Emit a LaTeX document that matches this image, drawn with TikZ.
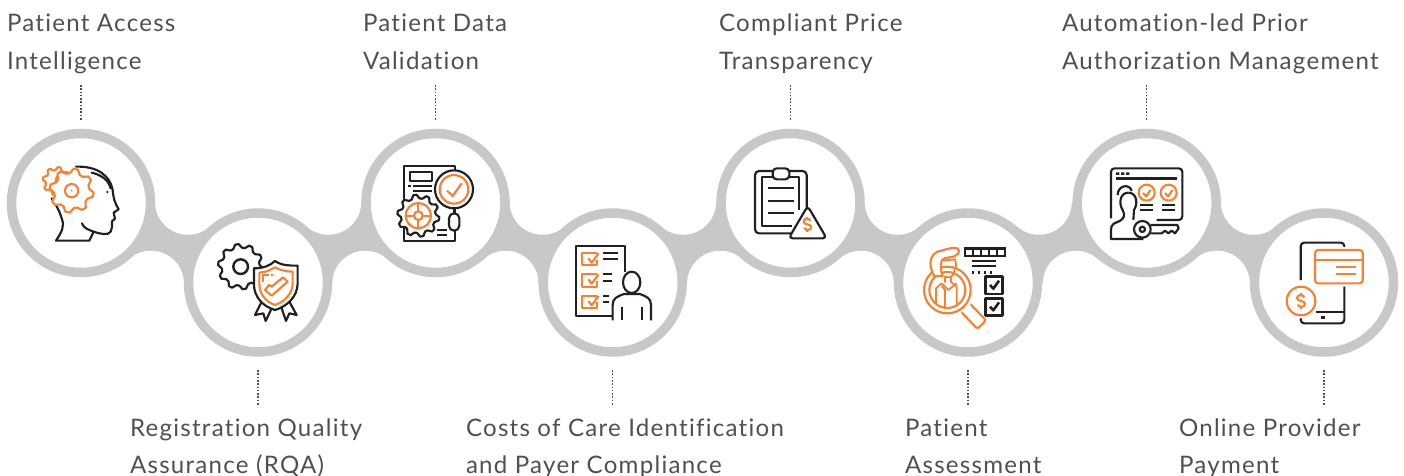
\documentclass[tikz,border=0pt]{standalone}
\usepackage{fontspec}
\setmainfont{Lato}[LetterSpace=5.2,Ligatures={NoCommon}]
\usetikzlibrary{calc,backgrounds}
\definecolor{bandgray}{HTML}{C6C8CA}
\definecolor{ico}{HTML}{231F20}
\definecolor{org}{HTML}{F58233}
\definecolor{txt}{HTML}{505052}
\tikzset{
 ring/.style={circle,draw=bandgray,fill=white,line width=9.5pt,minimum size=139pt,inner sep=0pt,outer sep=0pt},
 lbl/.style={anchor=north west,inner sep=0pt,outer sep=0pt,align=left,text=txt,font=\fontsize{24.1}{37.3}\selectfont},
 leader/.style={draw=txt,line width=1.3pt,dash pattern=on 1.6pt off 1.7pt},
 ik/.style={draw=ico,line width=2.15pt,line join=round},
 og/.style={draw=org,line width=2.15pt,line join=round},
 ikb/.style={draw=ico,line width=2.8pt},
 zone/.style={x=0.33333pt,y=-0.33333pt}
}
\newcommand{\gearshape}[7]{% style cx cy rout rin last-index rot
 \draw[#1] plot[samples at={0,...,#6},variable=\k]
  ({#2+((mod(\k,4)<2)*#4+(mod(\k,4)>=2)*#5)*cos(#7+\k*360/(#6+1))},
   {#3+((mod(\k,4)<2)*#4+(mod(\k,4)>=2)*#5)*sin(#7+\k*360/(#6+1))}) -- cycle;}
\newcommand{\dollarsign}[3]{\begin{scope}[shift={(#1,#2)},scale=#3]
 \draw[og] (10,-11) .. controls (7,-20) and (-12,-20) .. (-12,-9) .. controls (-12,3) and (12,-3) .. (12,9) .. controls (12,20) and (-7,20) .. (-10,11);
 \draw[og] (0,-24) -- (0,-16) (0,16) -- (0,24);
 \end{scope}}
\begin{document}
\begin{tikzpicture}[x=1pt,y=-1pt]
\useasboundingbox (0,0) rectangle (1404,476);
% rings
\node[ring] (c1) at (81,203) {};
\node[ring] (c2) at (258,282.5) {};
\node[ring] (c3) at (435.5,203) {};
\node[ring] (c4) at (612.7,282.5) {};
\node[ring] (c5) at (790.5,203) {};
\node[ring] (c6) at (968,282.5) {};
\node[ring] (c7) at (1146.7,203) {};
\node[ring] (c8) at (1324,282.5) {};
\begin{scope}[on background layer]
 \foreach \a/\b/\sx in {c1/c2/18.5,c2/c3/-18.5,c3/c4/18.5,c4/c5/-18.5,c5/c6/18.5,c6/c7/-18.5,c7/c8/18.5}{
  \coordinate (fa) at ($(\a)!.5!(\b)+(\sx,-41)$);
  \coordinate (fb) at ($(\a)!.5!(\b)+(-\sx,41)$);
  \fill[bandgray] (\a.center) -- (fa) -- (\b.center) -- (fb) -- cycle;
  \fill[white] (fa) circle[radius=33pt] (fb) circle[radius=33pt];
 }
\end{scope}
% labels
\node[lbl] (l1) at (7,12) {\rule{0pt}{20pt}Patient Access\\Intelligence};
\node[lbl] (l2) at (130,416) {\rule{0pt}{20pt}Registration Quality\\Assurance (RQA)};
\node[lbl] (l3) at (363,12) {\rule{0pt}{20pt}Patient Data\\Validation};
\node[lbl] (l4) at (466,416) {\rule{0pt}{20pt}Costs of Care Identification\\and Payer Compliance};
\node[lbl] (l5) at (719,12) {\rule{0pt}{20pt}Compliant Price\\Transparency};
\node[lbl] (l6) at (905,416) {\rule{0pt}{20pt}Patient\\Assessment};
\node[lbl] (l7) at (1062,12) {\rule{0pt}{20pt}Automation-led Prior\\Authorization Management};
\node[lbl] (l8) at (1179,416) {\rule{0pt}{20pt}Online Provider\\Payment};
% leaders
\foreach \c in {c1,c3,c5,c7}{
 \coordinate (t) at ($(\c.center)+(0,-118)$);
 \coordinate (u) at ($(\c.center)+(0,-83)$);
 \draw[leader] (t) -- (u);}
\foreach \c in {c2,c4,c6,c8}{
 \coordinate (t) at ($(\c.center)+(0,87.5)$);
 \coordinate (u) at ($(\c.center)+(0,122.5)$);
 \draw[leader] (t) -- (u);}
% ICONS 1,2
\begin{scope}[shift={(0,120)},zone]
 \draw[ik,line cap=round] (228,140) .. controls (290,138) and (330,165) .. (338,210) .. controls (340,235) and (345,250) .. (356,268) -- (341,278) .. controls (342,285) and (344,290) .. (345,296) -- (336,304) .. controls (337,315) and (337,325) .. (332,335) .. controls (325,347) and (300,342) .. (281,335) .. controls (268,330) and (250,325) .. (246,310);
 \draw[ik,line cap=round] (281,335) -- (268,362) -- (168,362) .. controls (185,335) and (195,320) .. (185,295) .. controls (178,270) and (165,250) .. (155,235);
 \draw[ik,line cap=round] (275,158) .. controls (305,165) and (325,180) .. (332,205);
 \fill[ico] (322,216) circle[radius=4];
 \gearshape{og,fill=white}{170}{183}{42}{33}{31}{5}
 \draw[og] (180,165) .. controls (160,172) and (165,195) .. (180,200);
 \gearshape{og,fill=white}{215}{212}{66}{53}{31}{5}
 \draw[og] (215,212) circle[radius=20];
 \fill[org] (215,212) circle[radius=3];
 % icon 2
 \gearshape{ik,fill=white}{722}{440}{68}{57}{39}{4}
 \draw[ik,line width=2.4pt] (722,440) circle[radius=22];
 \draw[ik,fill=white] (785,545) -- (765,585) -- (790,580) -- (797,603) -- (815,565);
 \draw[ik,fill=white] (845,565) -- (858,603) -- (868,580) -- (890,585) -- (868,545);
 \draw[ik,fill=white] (762,445) .. controls (790,445) and (810,437) .. (825,423) .. controls (845,437) and (870,437) .. (893,437) -- (893,490) .. controls (893,530) and (860,560) .. (825,570) .. controls (790,560) and (760,530) .. (762,490) -- cycle;
 \draw[og] (778,458) .. controls (795,458) and (812,450) .. (825,442) .. controls (840,450) and (860,455) .. (878,455) -- (878,490) .. controls (878,520) and (855,545) .. (825,555) .. controls (795,545) and (778,520) .. (778,490) -- cycle;
 \draw[og] (795,510) -- (815,527) -- (863,485) -- (849,472) -- (815,500) -- (807,495) -- cycle;
 \draw[og] (790,485) -- (790,465) -- (808,465);
 \fill[org] (813,463) rectangle (819,469);
\end{scope}
% ICONS 3,4
\begin{scope}[shift={(350,120)},zone]
 \draw[ik] (163,138) rectangle (315,363);
 \draw[ik] (180,155) rectangle (247,183);
 \draw[ik] (175,199) -- (184,199) (190,199) -- (247,199) (190,214) -- (247,214);
 \draw[ik] (262,330) -- (290,330) (262,346) -- (290,346);
 \gearshape{ik,fill=white}{205}{287}{63}{52}{39}{4}
 \draw[og] (205,287) circle[radius=38] (205,287) circle[radius=13];
 \draw[og] (205,249) -- (205,274) (205,300) -- (205,325) (167,287) -- (192,287) (218,287) -- (243,287);
 \draw[ik,fill=white,rounded corners=5pt] (297,280) rectangle (328,332);
 \draw[ik] (312,265) -- (312,280);
 \draw[ik,fill=white] (312,208) circle[radius=57];
 \draw[og] (312,208) circle[radius=43];
 \draw[og] (291,212) -- (308,228) -- (335,190);
 % icon 4
 \draw[ik] (678,378) rectangle (825,587);
 \draw[og] (742,400) -- (697,400) -- (697,435) -- (742,435) -- (742,420);
 \draw[og] (715,415) -- (725,428) -- (746,400);
 \draw[og] (742,463) -- (697,463) -- (697,500) -- (742,500) -- (742,482);
 \draw[og] (715,478) -- (725,491) -- (746,463);
 \draw[og] (742,528) -- (697,528) -- (697,565) -- (742,565) -- (742,547);
 \draw[og] (715,543) -- (725,556) -- (746,528);
 \draw[ik] (760,400) -- (805,400) (760,416) -- (805,416) (760,463) -- (805,463) (760,482) -- (805,482) (760,528) -- (778,528) (760,546) -- (778,546);
 \fill[white] (786,455) rectangle (905,603);
 \draw[ik] (845,487) ellipse[x radius=26,y radius=32];
 \draw[ik] (788,601) -- (788,555) .. controls (788,535) and (800,530) .. (822,522) -- (870,522) .. controls (890,530) and (903,535) .. (903,555) -- (903,601);
 \draw[ik] (815,560) -- (815,601) (875,560) -- (875,601);
\end{scope}
% ICONS 5,6
\begin{scope}[shift={(700,120)},zone]
 \draw[ik,rounded corners=4pt] (165,153) rectangle (320,340);
 \draw[ik] (298,270) -- (298,170) -- (268,170) (218,170) -- (187,170) -- (187,318) -- (275,318);
 \draw[ik,fill=white,rounded corners=4pt] (218,145) rectangle (268,178);
 \draw[ik] (205,205) -- (283,205) (205,242) -- (283,242) (205,280) -- (283,280);
 \draw[ik,fill=white,rounded corners=4pt] (323,258) -- (380,355) -- (266,355) -- cycle;
 \dollarsign{322}{313}{0.95}
 % icon 6
 \fill[ico] (793,381) rectangle (918,412);
 \foreach \q in {798,823,847,871,895}{\fill[white] (\q,389) rectangle (\q+17,404);}
 \draw[ik] (815,423) -- (888,423) (815,438) -- (888,438);
 \draw[ik,line width=2.4pt,dash pattern=on 2.5pt off 3.6pt] (815,457) -- (888,457);
 \draw[ik,line width=2.6pt] (857,470) rectangle (908,522) (857,535) rectangle (908,587);
 \draw[ik,line width=2.6pt] (870,495) -- (880,506) -- (897,482) (870,560) -- (880,571) -- (897,547);
 \draw[og] (742,510) circle[radius=70] (742,510) circle[radius=54];
 \draw[og,rounded corners=2.5pt] (812,553) -- (858,601) -- (832,627) -- (785,577);
 \draw[og,fill=white] (702,468) .. controls (688,440) and (685,410) .. (712,395) .. controls (735,390) and (755,380) .. (772,385) .. controls (782,392) and (778,408) .. (750,412) .. controls (738,413) and (730,416) .. (726,420) .. controls (720,435) and (722,455) .. (728,468) .. controls (718,468) and (710,470) .. (702,468) -- cycle;
 \draw[og,line width=1.8pt] (728,422) -- (765,418) .. controls (768,430) and (770,440) .. (764,447) .. controls (762,460) and (758,470) .. (748,472) -- (735,470) -- (735,488);
 \draw[og,line width=1.8pt] (752,472) -- (752,485);
 \draw[og,line width=1.8pt] (725,490) -- (745,510) -- (770,490);
 \draw[og,line width=1.8pt] (708,553) -- (708,505) -- (725,490) (735,562) -- (735,510) -- (725,498) (770,553) -- (770,500) -- (752,485);
\end{scope}
% ICONS 7,8
\begin{scope}[shift={(1050,120)},zone]
 \draw[ik,rounded corners=3.5pt] (183,295) -- (183,145) -- (397,145) -- (397,300) -- (320,300);
 \fill[ico] (198,157) rectangle (208,165) (213,157) rectangle (223,165) (228,157) rectangle (238,165);
 \draw[ikb] (198,175) -- (381,175);
 \draw[og] (290,218) circle[radius=24] (356,218) circle[radius=24];
 \draw[og] (279,219) -- (288,229) -- (302,210) (345,219) -- (354,229) -- (368,210);
 \draw[ik] (270,255) -- (310,255) (270,270) -- (310,270) (337,255) -- (375,255) (337,270) -- (375,270);
 \draw[ik] (203,225) .. controls (203,195) and (240,190) .. (245,213);
 \draw[ik] (235,218) .. controls (210,218) and (205,250) .. (218,270) .. controls (225,285) and (225,295) .. (205,305) .. controls (190,310) and (183,315) .. (183,330) -- (183,357) -- (280,357);
 \draw[ik] (235,218) .. controls (260,218) and (265,250) .. (252,270) -- (250,300);
 \draw[ik] (302,315) -- (382,315) -- (386,325) -- (375,340) -- (365,332) -- (355,340) -- (345,332) -- (335,340) -- (302,340);
 \draw[ik,fill=white] (277,328) circle[radius=25];
 \draw[ik] (277,328) circle[radius=8];
 % icon 8
 \draw[ik,rounded corners=3.5pt] (752,480) -- (752,368) -- (883,368) -- (883,376);
 \draw[ik,rounded corners=3.5pt] (883,500) -- (883,610) -- (752,610) -- (752,595);
 \draw[ik] (797,577) -- (883,577);
 \draw[ik,line width=2.6pt] (812,593) -- (824,593);
 \draw[og,rounded corners=3pt] (795,390) rectangle (938,490);
 \draw[og] (795,420) -- (938,420) (858,440) -- (917,440) (858,463) -- (917,463);
 \draw[og,fill=white] (753,543) circle[radius=43];
 \dollarsign{753}{543}{1}
\end{scope}
\end{tikzpicture}
\end{document}
